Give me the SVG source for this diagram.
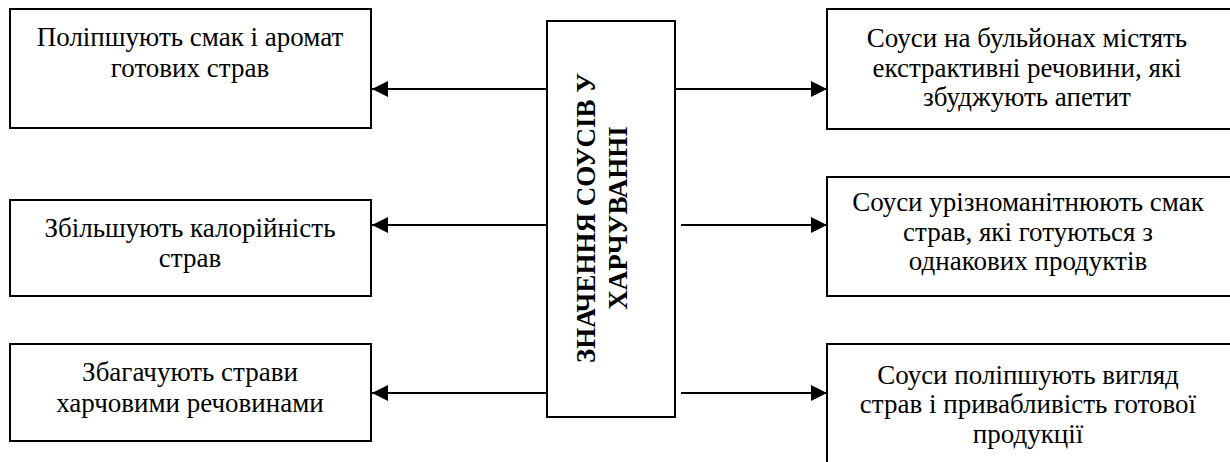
<svg xmlns="http://www.w3.org/2000/svg" width="1230" height="462" viewBox="0 0 1230 462">
<defs>
<style>
.box{fill:#fff;stroke:#000;stroke-width:2}
text{font-family:'Liberation Serif','DejaVu Serif',serif;font-size:27px;fill:#000;text-anchor:middle}
.b{font-weight:bold}
.c{stroke:#000;stroke-width:2.2;fill:none}
</style>
<marker id="ah" viewBox="0 0 16 16" refX="16" refY="8" markerWidth="16" markerHeight="16" markerUnits="userSpaceOnUse" orient="auto">
<path d="M0,0 L16,8 L0,16 Z" fill="#000"/>
</marker>
</defs>
<g id="connectors">
<line class="c" x1="547" y1="89" x2="372" y2="89" marker-end="url(#ah)"/>
<line class="c" x1="547" y1="225" x2="372" y2="225" marker-end="url(#ah)"/>
<line class="c" x1="547" y1="393" x2="372" y2="393" marker-end="url(#ah)"/>
<line class="c" x1="675" y1="89" x2="827" y2="89" marker-end="url(#ah)"/>
<line class="c" x1="681" y1="225" x2="827" y2="225" marker-end="url(#ah)"/>
<line class="c" x1="681" y1="393" x2="827" y2="393" marker-end="url(#ah)"/>
</g>
<g id="center">
<rect class="box" x="547" y="21" width="128" height="396"/>
<g transform="translate(611,218) rotate(-90)">
<text class="b" x="0" y="-16">ЗНАЧЕННЯ СОУСІВ У</text>
<text class="b" x="0" y="16">ХАРЧУВАННІ</text>
</g>
</g>
<g id="left1">
<rect class="box" x="10" y="9" width="361" height="119"/>
<text x="190" y="46">Поліпшують смак і аромат</text>
<text x="190" y="77">готових страв</text>
</g>
<g id="left2">
<rect class="box" x="10" y="200" width="361" height="96"/>
<text x="190" y="237">Збільшують калорійність</text>
<text x="190" y="267">страв</text>
</g>
<g id="left3">
<rect class="box" x="10" y="344" width="361" height="97"/>
<text x="190" y="381">Збагачують страви</text>
<text x="190" y="412">харчовими речовинами</text>
</g>
<g id="right1">
<rect class="box" x="827" y="9" width="410" height="120"/>
<text x="1027" y="47">Соуси на бульйонах містять</text>
<text x="1027" y="77">екстрактивні речовини, які</text>
<text x="1027" y="106">збуджують апетит</text>
</g>
<g id="right2">
<rect class="box" x="827" y="177" width="410" height="119"/>
<text x="1028" y="211">Соуси урізноманітнюють смак</text>
<text x="1028" y="241">страв, які готуються з</text>
<text x="1028" y="270">однакових продуктів</text>
</g>
<g id="right3">
<rect class="box" x="827" y="344" width="410" height="130"/>
<text x="1028" y="384">Соуси поліпшують вигляд</text>
<text x="1028" y="413">страв і привабливість готової</text>
<text x="1028" y="443">продукції</text>
</g>
</svg>
